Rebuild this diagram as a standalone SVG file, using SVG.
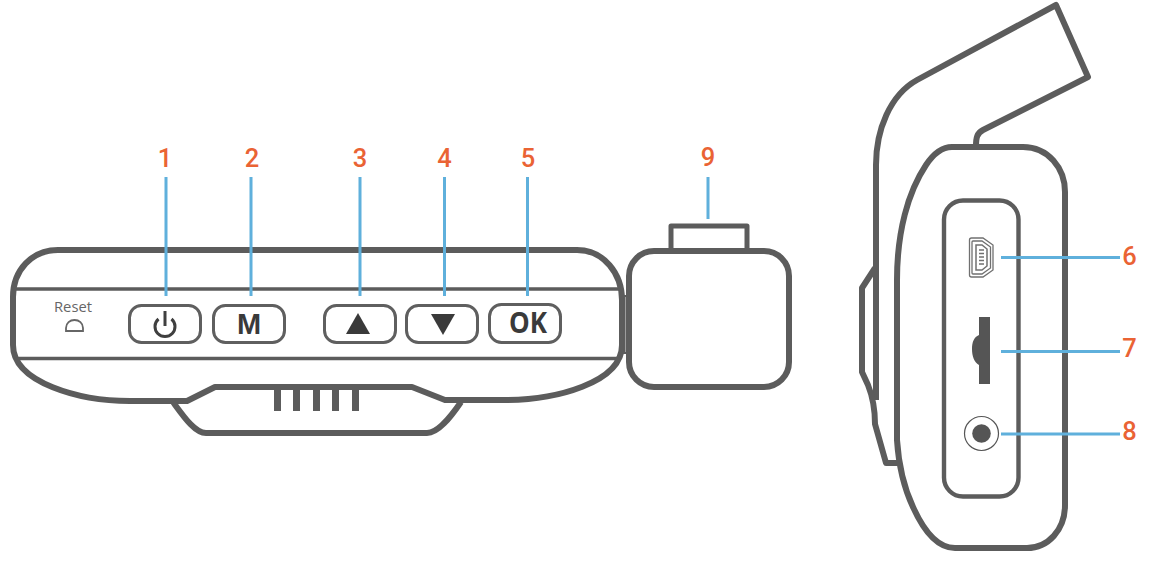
<svg xmlns="http://www.w3.org/2000/svg" width="1170" height="568" viewBox="0 0 1170 568">
<style>
.o{fill:none;stroke:#5c5c5c;stroke-width:6;stroke-linejoin:round}
.t{fill:none;stroke:#5c5c5c;stroke-width:3.4}
.b{fill:none;stroke:#5f5f5f;stroke-width:3}
.l{fill:none;stroke:#5fb0dc;stroke-width:3}
.u{fill:none;stroke:#707070;stroke-width:1.3}
.n{font-family:Roboto,"Noto Sans",sans-serif;font-size:25.500px;font-weight:500;fill:#ea6334;text-anchor:middle}
.k{font-family:"Open Sans","Noto Sans",sans-serif;font-weight:700;fill:#3a3a3a;text-anchor:middle}
</style>
<rect width="1170" height="568" fill="#fff"/>
<g id="front-body">
<path class="o" d="M58 250H577C604 250 622 274 622 300V345C622 383 555 400 505 400H445L412 387H215L187 401H130C80 401 13 383 13 345V297C13 270 32 250 58 250Z"/>
<path class="t" d="M14 289H620M14 358.500H620"/>
<path class="o" d="M173 402C184 417 195 433 206 433H427C438 433 450 418 461 402"/>
<path d="M274 390h7v21h-7zM293 390h7v21h-7zM313 390h7v21h-7zM332 390h7v21h-7zM352 390h7v21h-7z" fill="#5c5c5c"/>
</g>
<g id="reset">
<text x="73" y="312" font-family="Open Sans,Noto Sans,sans-serif" font-size="15" fill="#666" text-anchor="middle" textLength="38" lengthAdjust="spacingAndGlyphs">Reset</text>
<path d="M66 331V328C66 323 70 320 74.500 320C79 320 83 323 83 328V331Z" fill="none" stroke="#666" stroke-width="1.800"/>
</g>
<g id="btn-power">
<rect class="b" x="129.500" y="305.500" width="71" height="37" rx="12"/>
<path d="M165 311V326" stroke="#3f3f3f" stroke-width="3" fill="none"/>
<path d="M158.500 319A10 10 0 1 0 171.500 319" stroke="#3f3f3f" stroke-width="3" fill="none"/>
</g>
<g id="btn-m">
<rect class="b" x="213.500" y="305.500" width="71" height="37" rx="12"/>
<text class="k" x="249" y="334" font-size="29" style="font-family:'Liberation Sans',sans-serif">M</text>
</g>
<g id="btn-up">
<rect class="b" x="324.500" y="305.500" width="71" height="37" rx="12"/>
<path d="M358 313L370 334H346Z" fill="#3a3a3a"/>
</g>
<g id="btn-down">
<rect class="b" x="406.500" y="305.500" width="71" height="37" rx="12"/>
<path d="M431 314H455L443 335Z" fill="#3a3a3a"/>
</g>
<g id="btn-ok">
<rect class="b" x="489.500" y="304.500" width="71" height="38" rx="12"/>
<text class="k" x="528" y="333" font-size="29" textLength="38" lengthAdjust="spacingAndGlyphs">OK</text>
</g>
<g id="mount-tab">
<path class="o" d="M671 250V226H747V250" style="stroke-width:5"/>
<rect class="o" x="629" y="251" width="160" height="136" rx="25"/>
<path d="M624.500 296V353" stroke="#5c5c5c" stroke-width="2.200" fill="none"/>
<path d="M622 296H628M622 353H628" stroke="#5c5c5c" stroke-width="2" fill="none"/>
</g>
<g id="side-view">
<path class="o" d="M876 400V165C876 130 890 95 917 80L1056 5L1088 77L983 130C977 133 976 138 976 146"/>
<path class="o" d="M952 147H1023C1048 147 1065 168 1065 192V505C1065 530 1048 548 1027 548H955C935 548 922 527 913 507C905 490 899 470 897 440V280C897 232 908 192 926 165C934 153 942 147 952 147Z"/>
<path class="o" d="M875 268L862 288V372L868 385C872 395 875 410 875 424L886 463H898"/>
<rect class="o" x="944" y="200.500" width="74.500" height="296" rx="19" style="stroke-width:4.400"/>
</g>
<g id="usb-port">
<path class="u" d="M971.500 238H983L993 245V270L983 277H971.500Q969.500 277 969.500 275V240Q969.500 238 971.500 238Z"/>
<path class="u" d="M973 241H982L990.500 247V268L982 274H973Q972 274 972 273V242Q972 241 973 241Z"/>
<path class="u" d="M976 245H982L987 249V266L982 270H976Z" style="stroke-width:1.500"/>
<path d="M979 250H984M979 253.500H984M979 257H984M979 260.500H984M979 264H984" stroke="#707070" stroke-width="1.400" fill="none"/>
</g>
<g id="sd-slot">
<path d="M979 317H990V384H979V365C974 362 972 356 972 349C972 342 974 337 979 335Z" fill="#555"/>
</g>
<g id="jack">
<circle cx="981.500" cy="433.500" r="17" fill="none" stroke="#555" stroke-width="1.200"/>
<circle cx="981.500" cy="433.500" r="9.300" fill="#555"/>
</g>
<g id="connectors">
<path class="l" d="M166 177V296M251 177V296M360 177V296M444.500 177V296M527.500 177V296M708 177V219M1001 257.500H1120M1001 351.500H1120M1001 434H1120"/>
</g>
<g id="labels">
<text class="n" x="165" y="167">1</text>
<text class="n" x="252" y="167">2</text>
<text class="n" x="360" y="167">3</text>
<text class="n" x="444.500" y="167">4</text>
<text class="n" x="528" y="167">5</text>
<text class="n" x="708" y="166">9</text>
<text class="n" x="1129.500" y="265">6</text>
<text class="n" x="1129.500" y="357">7</text>
<text class="n" x="1129.500" y="440">8</text>
</g>
</svg>
